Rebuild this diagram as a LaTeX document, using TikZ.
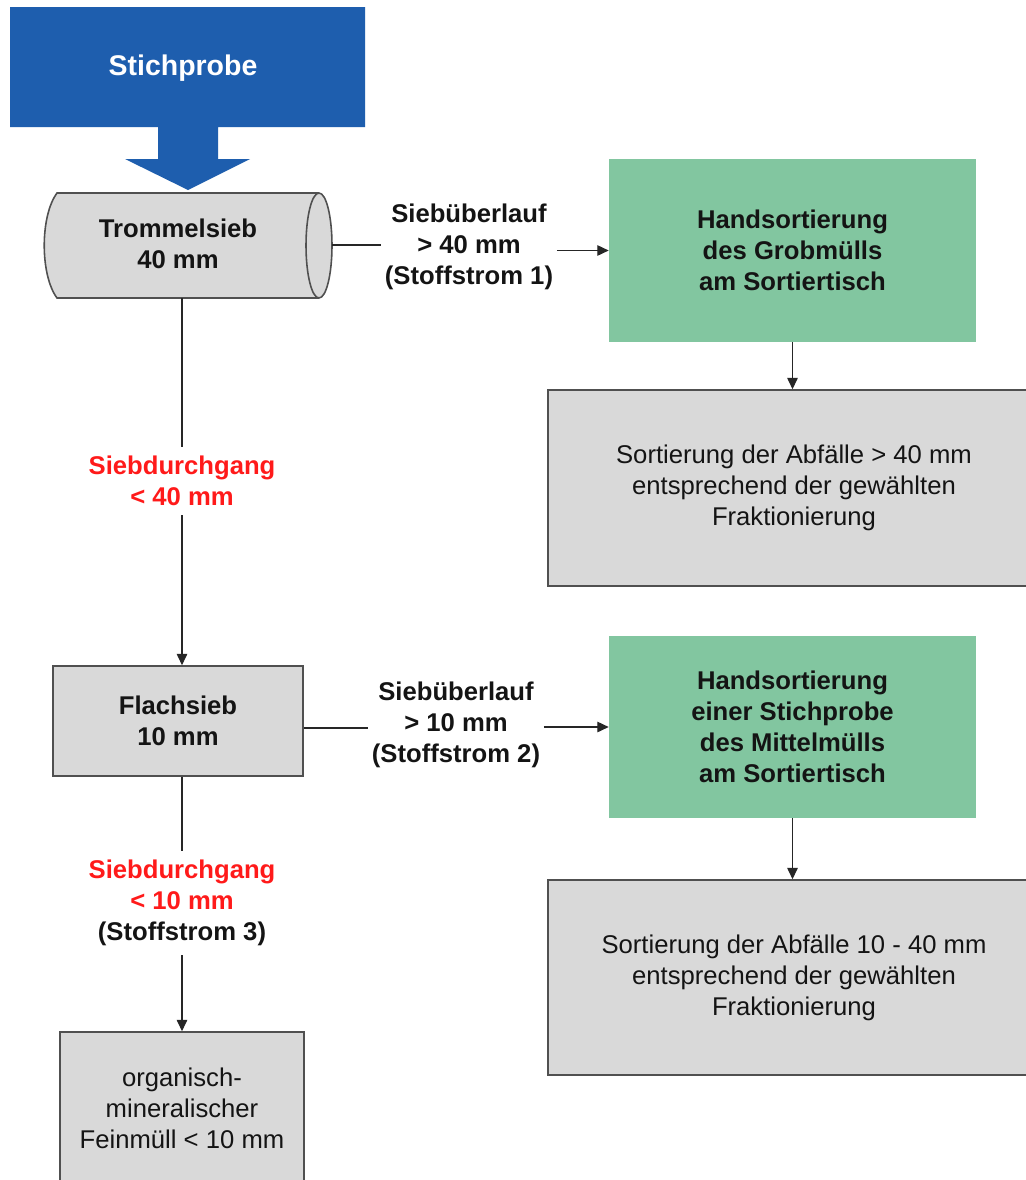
\documentclass[tikz,border=0pt]{standalone}
\usepackage{fontspec}
\setmainfont{Liberation Sans}
\usetikzlibrary{arrows.meta,calc}
\definecolor{bluebox}{HTML}{1E5EAE}
\definecolor{greenbox}{HTML}{82C6A0}
\definecolor{greybox}{HTML}{D9D9D9}
\definecolor{edgegrey}{HTML}{505050}
\definecolor{redtxt}{HTML}{FF1A1A}
\definecolor{txt}{HTML}{141414}
\begin{document}
\begin{tikzpicture}[x=0.02cm,y=-0.02cm,
  every node/.style={font=\fontsize{14.6}{17.6}\selectfont, text=txt, align=center},
  greybx/.style={draw=edgegrey, line width=0.9pt, fill=greybox, inner sep=0pt},
  greenbx/.style={fill=greenbox, inner sep=0pt, font=\fontsize{14.6}{17.6}\selectfont\bfseries},
  lbl/.style={fill=white, inner sep=2pt, font=\fontsize{14.6}{17.6}\selectfont\bfseries},
  conn/.style={draw=black!85, line width=0.7pt},
  arr/.style={conn, -{Triangle[length=6.5pt,width=6pt]}}
]
\useasboundingbox (0,0) rectangle (1026,1180);
\clip (0,0) rectangle (1026,1180);
\fill[white] (0,0) rectangle (1026,1180);

% blue block arrow
\fill[bluebox] (10,7) -- (365,7) -- (365,127) -- (218,127) -- (218,159) -- (250,159)
  -- (188,190) -- (125,159) -- (158,159) -- (158,127) -- (10,127) -- cycle;
\node[text=white, font=\fontsize{16.2}{19}\selectfont\bfseries] (stich) at (183,68) {Stichprobe};

% cylinder (Trommelsieb)
\filldraw[draw=edgegrey, line width=0.9pt, fill=greybox]
  (57,193) -- (319,193) arc[start angle=90, end angle=-90, x radius=0.26cm, y radius=1.05cm]
  -- (57,298) .. controls (40,275) and (40,216) .. (57,193) -- cycle;
\draw[draw=edgegrey, line width=0.9pt] (319,193) arc[start angle=90, end angle=270, x radius=0.26cm, y radius=1.05cm];
\node[font=\fontsize{14.6}{17.6}\selectfont\bfseries] (cyl) at (178,244) {Trommelsieb\\40 mm};
\coordinate (cylE) at (332,245);
\coordinate (cylS) at (182,298);
\coordinate (colx) at (182,0);

% boxes
\node[greenbx, minimum width=7.34cm, minimum height=3.66cm] (g1) at (792.5,250.5)
  {Handsortierung\\des Grobmülls\\am Sortiertisch};
\node[greybx, minimum width=9.84cm, minimum height=3.92cm] (s1) at (794,488)
  {Sortierung der Abfälle > 40 mm\\entsprechend der gewählten\\Fraktionierung};
\node[greybx, minimum width=5cm, minimum height=2.2cm, font=\fontsize{14.6}{17.6}\selectfont\bfseries] (flach) at (178,721)
  {Flachsieb\\10 mm};
\node[greenbx, minimum width=7.34cm, minimum height=3.64cm] (g2) at (792.5,727)
  {Handsortierung\\einer Stichprobe\\des Mittelmülls\\am Sortiertisch};
\node[greybx, minimum width=9.84cm, minimum height=3.9cm] (s2) at (794,977.5)
  {Sortierung der Abfälle 10 - 40 mm\\entsprechend der gewählten\\Fraktionierung};
\node[greybx, minimum width=4.88cm, minimum height=3.04cm] (fein) at (182,1108)
  {organisch-\\mineralischer\\Feinmüll < 10 mm};

% labels
\node[lbl] (l1) at (469,247) {Siebüberlauf\\> 40 mm\\(Stoffstrom 1)};
\node[lbl, text=redtxt, inner sep=5pt] (l2) at (182,481) {Siebdurchgang\\< 40 mm};
\node[lbl] (l3) at (456,725) {Siebüberlauf\\> 10 mm\\(Stoffstrom 2)};
\node[lbl, inner sep=5pt] (l4) at (182,903) {\textcolor{redtxt}{Siebdurchgang}\\\textcolor{redtxt}{< 10 mm}\\(Stoffstrom 3)};
\coordinate (flE) at ($(flach.east)+(0,7)$);

% connectors
\draw[conn] (cylE) -- (cylE -| l1.west);
\draw[arr] (l1.east |- g1.west) -- (g1.west);
\draw[arr] (g1.south) -- (g1.south |- s1.north);
\draw[conn] (cylS) -- (colx |- l2.north);
\draw[arr] (colx |- l2.south) -- (colx |- flach.north);
\draw[conn] (flE) -- (flE -| l3.west);
\draw[arr] (l3.east |- g2.west) -- (g2.west);
\draw[arr] (g2.south) -- (g2.south |- s2.north);
\draw[conn] (colx |- flach.south) -- (colx |- l4.north);
\draw[arr] (colx |- l4.south) -- (colx |- fein.north);
\end{tikzpicture}
\end{document}
